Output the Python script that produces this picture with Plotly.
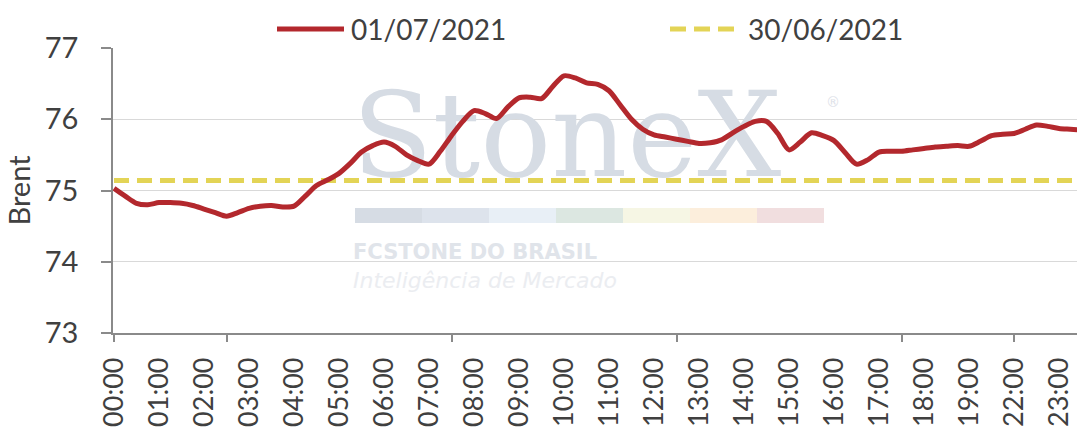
import plotly.graph_objects as go

# ---------------- data ----------------
time_labels = ["00:00", "01:00", "02:00", "03:00", "04:00", "05:00", "06:00", "07:00",
               "08:00", "09:00", "10:00", "11:00", "12:00", "13:00", "14:00", "15:00",
               "16:00", "17:00", "18:00", "19:00", "22:00", "23:00"]
slots_per_label = 4  # quotes between two labels

brent_0107 = [75.03, 74.92, 74.82, 74.80, 74.83, 74.83, 74.82, 74.79, 74.74, 74.69,
              74.64, 74.69, 74.75, 74.78, 74.79, 74.77, 74.78, 74.92, 75.07, 75.15,
              75.24, 75.38, 75.54, 75.63, 75.68, 75.62, 75.50, 75.42, 75.37, 75.55,
              75.77, 75.97, 76.12, 76.08, 76.01, 76.17, 76.30, 76.31, 76.29, 76.46,
              76.61, 76.58, 76.51, 76.49, 76.40, 76.20, 76.00, 75.86, 75.78, 75.75,
              75.72, 75.69, 75.66, 75.67, 75.71, 75.81, 75.90, 75.97, 75.97, 75.80,
              75.57, 75.68, 75.81, 75.77, 75.70, 75.53, 75.37, 75.43, 75.54, 75.55,
              75.55, 75.57, 75.59, 75.61, 75.62, 75.63, 75.62, 75.69, 75.77, 75.79,
              75.80, 75.86, 75.92, 75.90, 75.87, 75.86, 75.85]
brent_3006 = 75.14  # previous day reference level

series_names = ["01/07/2021", "30/06/2021"]
y_title = "Brent"

# ---------------- styles / geometry ----------------
W, H = 1077, 430
L, R, T, B = 113, 0, 48, 97
PW, PH = W - L - R, H - T - B
XR = [-0.09, 85.6]
YR = [73, 77]
RED = "#B3282D"
YELLOW = "#E3D456"
TXT = "#404040"
AXIS = "#8A8A8A"
GRID = "#D9D9D9"
FONT = "Lato"

def dx(px):
    return XR[0] + (px - L) / PW * (XR[1] - XR[0])

def dy(py):
    return YR[0] + (T + PH - py) / PH * (YR[1] - YR[0])

def pxp(px):
    return (px - L) / PW

def pyp(py):
    return (T + PH - py) / PH

xs = list(range(len(brent_0107)))

fig = go.Figure()

# watermark (drawn first so it sits under the lines)
fig.add_trace(go.Scatter(x=[dx(352)], y=[dy(146)], mode="text", text=["StoneX"],
                         textposition="middle right", hoverinfo="skip", showlegend=False,
                         textfont=dict(family="DejaVu Serif", size=118, color="#D6DCE4")))
fig.add_trace(go.Scatter(x=[dx(826)], y=[dy(103)], mode="text", text=["®"],
                         textposition="middle right", hoverinfo="skip", showlegend=False,
                         textfont=dict(family="DejaVu Sans", size=14, color="#DDE1E8")))
fig.add_trace(go.Scatter(x=[dx(353)], y=[dy(254)], mode="text", text=["FCSTONE DO BRASIL"],
                         textposition="middle right", hoverinfo="skip", showlegend=False,
                         textfont=dict(family="DejaVu Sans", size=21, color="#E0E4EA",
                                       weight="bold")))
fig.add_trace(go.Scatter(x=[dx(353)], y=[dy(282)], mode="text", text=["Inteligência de Mercado"],
                         textposition="middle right", hoverinfo="skip", showlegend=False,
                         textfont=dict(family="DejaVu Sans", size=22, color="#EBEDF1",
                                       style="italic")))

# yellow dashed reference line
fig.add_trace(go.Scatter(x=xs, y=[brent_3006] * len(xs), mode="lines", name=series_names[1],
                         line=dict(color=YELLOW, width=5, dash="15px,8px"),
                         showlegend=False, hoverinfo="skip"))
# red price line
fig.add_trace(go.Scatter(x=xs, y=brent_0107, mode="lines", name=series_names[0],
                         line=dict(color=RED, width=5, shape="spline", smoothing=0.8),
                         showlegend=False))

# extra tick marks axis
tick_marks = [0, 10, 30, 50, 70, 80]
fig.add_trace(go.Scatter(x=[XR[0]], y=[YR[0]], xaxis="x2", mode="markers",
                         marker=dict(opacity=0), showlegend=False, hoverinfo="skip"))

shapes = []
bar_colors = ["#D6DCE4", "#DDE3EC", "#E8EFF6", "#DCE7E1", "#F6F6E4", "#FCEEDC", "#F1DEDF"]
for i, c in enumerate(bar_colors):
    x0 = 355 + i * 67
    shapes.append(dict(type="rect", xref="paper", yref="paper", layer="below",
                       x0=pxp(x0), x1=pxp(x0 + 67), y0=pyp(223), y1=pyp(208),
                       fillcolor=c, line=dict(width=0)))

# manual legend
shapes.append(dict(type="line", xref="paper", yref="paper", x0=pxp(277), x1=pxp(344),
                   y0=pyp(29), y1=pyp(29), line=dict(color=RED, width=5)))
shapes.append(dict(type="line", xref="paper", yref="paper", x0=pxp(670), x1=pxp(737),
                   y0=pyp(29), y1=pyp(29), line=dict(color=YELLOW, width=5, dash="16px,8px")))
annotations = [
    dict(xref="paper", yref="paper", x=pxp(349), y=pyp(29), text=series_names[0],
         showarrow=False, xanchor="left", yanchor="middle",
         font=dict(family=FONT, size=28, color=TXT)),
    dict(xref="paper", yref="paper", x=pxp(746), y=pyp(29), text=series_names[1],
         showarrow=False, xanchor="left", yanchor="middle",
         font=dict(family=FONT, size=28, color=TXT)),
]

fig.update_layout(
    width=W, height=H,
    margin=dict(l=L, r=R, t=T, b=B, pad=0, autoexpand=False),
    paper_bgcolor="white", plot_bgcolor="white",
    showlegend=False,
    shapes=shapes, annotations=annotations,
    font=dict(family=FONT, color=TXT, size=28),
    xaxis=dict(range=XR, tickmode="array", automargin=False,
               tickvals=[i * slots_per_label for i in range(len(time_labels))],
               ticktext=time_labels, tickangle=-90, ticks="",
               showgrid=False, zeroline=False, showline=True, linecolor=AXIS, linewidth=1.5,
               tickfont=dict(family=FONT, size=27, color=TXT), ticklabelstandoff=12),
    xaxis2=dict(overlaying="x", anchor="y", side="bottom", range=XR, tickmode="array",
                automargin=False,
                tickvals=tick_marks, showticklabels=False, ticks="outside", ticklen=8,
                tickcolor=AXIS, tickwidth=1.5, showgrid=False, zeroline=False, showline=False),
    yaxis=dict(range=YR, dtick=1, showgrid=True, gridcolor=GRID, gridwidth=1.2,
               automargin=False,
               zeroline=False, showline=True, linecolor=AXIS, linewidth=1.5,
               ticks="outside", ticklen=10, tickcolor=AXIS, tickwidth=1.5,
               tickfont=dict(family=FONT, size=29, color=TXT), ticklabelstandoff=17,
               title=dict(text=y_title, font=dict(family=FONT, size=29, color=TXT), standoff=6)),
)

fig.write_html("out.html", config={"displayModeBar": False},
               post_script="document.body.style.margin='0';document.body.style.padding='0';")
